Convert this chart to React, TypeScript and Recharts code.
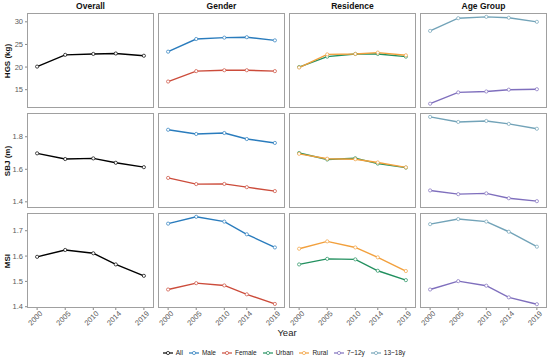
import React from 'react';
import { LineChart, Line, XAxis, YAxis } from 'recharts';

const years = [2000, 2005, 2010, 2014, 2019];

// HGS (kg)
const hgsAll = [20.1, 22.7, 22.9, 23.0, 22.5];
const hgsMale = [23.4, 26.2, 26.5, 26.6, 25.9];
const hgsFemale = [16.8, 19.1, 19.3, 19.3, 19.1];
const hgsUrban = [20.0, 22.3, 22.9, 22.9, 22.3];
const hgsRural = [19.9, 22.8, 22.9, 23.2, 22.6];
const hgsAge7 = [11.9, 14.4, 14.6, 15.0, 15.1];
const hgsAge13 = [28.0, 30.8, 31.1, 30.9, 30.0];

// SBJ (m)
const sbjAll = [1.698, 1.663, 1.667, 1.640, 1.613];
const sbjMale = [1.843, 1.817, 1.823, 1.786, 1.762];
const sbjFemale = [1.547, 1.509, 1.510, 1.490, 1.466];
const sbjUrban = [1.700, 1.660, 1.668, 1.635, 1.610];
const sbjRural = [1.695, 1.665, 1.662, 1.642, 1.612];
const sbjAge7 = [1.470, 1.447, 1.452, 1.422, 1.404];
const sbjAge13 = [1.922, 1.891, 1.897, 1.879, 1.849];

// MSI
const msiAll = [1.597, 1.624, 1.611, 1.567, 1.522];
const msiMale = [1.728, 1.755, 1.736, 1.686, 1.634];
const msiFemale = [1.468, 1.493, 1.484, 1.449, 1.411];
const msiUrban = [1.567, 1.589, 1.587, 1.542, 1.505];
const msiRural = [1.629, 1.658, 1.634, 1.595, 1.541];
const msiAge7 = [1.468, 1.501, 1.483, 1.437, 1.410];
const msiAge13 = [1.726, 1.746, 1.736, 1.696, 1.637];

const series = [
  { key: 'all', name: 'All', color: '#000000' },
  { key: 'male', name: 'Male', color: '#2a7cbd' },
  { key: 'female', name: 'Female', color: '#cc4c3b' },
  { key: 'urban', name: 'Urban', color: '#22905f' },
  { key: 'rural', name: 'Rural', color: '#f2a03d' },
  { key: 'age7', name: '7~12y', color: '#7f6fbd' },
  { key: 'age13', name: '13~18y', color: '#72a3b8' },
];

const facets = [
  { title: 'Overall', keys: ['all'] },
  { title: 'Gender', keys: ['male', 'female'] },
  { title: 'Residence', keys: ['urban', 'rural'] },
  { title: 'Age Group', keys: ['age7', 'age13'] },
];

const measures = [
  {
    label: 'HGS (kg)', domain: [10.95, 31.95], ticks: [15, 20, 25, 30], digits: 0,
    values: { all: hgsAll, male: hgsMale, female: hgsFemale, urban: hgsUrban, rural: hgsRural, age7: hgsAge7, age13: hgsAge13 },
  },
  {
    label: 'SBJ (m)', domain: [1.362, 1.946], ticks: [1.4, 1.6, 1.8], digits: 1,
    values: { all: sbjAll, male: sbjMale, female: sbjFemale, urban: sbjUrban, rural: sbjRural, age7: sbjAge7, age13: sbjAge13 },
  },
  {
    label: 'MSI', domain: [1.395, 1.77], ticks: [1.4, 1.5, 1.6, 1.7], digits: 1,
    values: { all: msiAll, male: msiMale, female: msiFemale, urban: msiUrban, rural: msiRural, age7: msiAge7, age13: msiAge13 },
  },
];

const colLeft = [27, 158, 289, 420];
const rowTop = [13, 113, 213];
const PW = 127;
const PH = 95;
const AXIS_W = 27;
const AXIS_H = 26;
const xDomain = [1998.2, 2020.8];
const tickColor = '#5c5c5c';

const XTick = (props: any) => {
  const { x, y, payload } = props;
  const ty = y + 8;
  return (
    <text x={x} y={ty} transform={`rotate(-45 ${x} ${ty})`} textAnchor="middle" fontSize={7.5} fill={tickColor}>
      {payload.value}
    </text>
  );
};

const Panel = ({ r, c }: { r: number; c: number }) => {
  const m = measures[r];
  const f = facets[c];
  const showY = c === 0;
  const showX = r === measures.length - 1;
  const data = years.map((yr, i) => {
    const row: any = { year: yr };
    f.keys.forEach(k => { row[k] = (m.values as any)[k][i]; });
    return row;
  });
  return (
    <div style={{ position: 'absolute', left: showY ? colLeft[c] - AXIS_W : colLeft[c], top: rowTop[r] }}>
      <LineChart
        width={PW + (showY ? AXIS_W : 0)}
        height={PH + (showX ? AXIS_H : 0)}
        data={data}
        margin={{ top: 0, right: 0, bottom: 0, left: 0 }}
      >
        <XAxis
          dataKey="year" type="number" domain={xDomain} ticks={years} interval={0}
          hide={!showX} height={AXIS_H} tick={<XTick />} tickSize={2}
          tickLine={{ stroke: '#888' }} axisLine={false}
        />
        <YAxis
          type="number" domain={m.domain} ticks={m.ticks} allowDataOverflow
          hide={!showY} width={AXIS_W} tickSize={2} tickMargin={2}
          tick={{ fontSize: 7.5, fill: tickColor }} tickLine={{ stroke: '#888' }} axisLine={false}
          tickFormatter={(v: number) => v.toFixed(m.digits)}
        />
        {f.keys.map(k => {
          const s = series.find(s => s.key === k)!;
          return (
            <Line
              key={k} dataKey={k} type="linear" stroke={s.color} strokeWidth={1.4}
              dot={{ r: 1.6, fill: '#fff', stroke: s.color, strokeWidth: 0.7 }}
              activeDot={false} isAnimationActive={false}
            />
          );
        })}
      </LineChart>
      <div style={{
        position: 'absolute', left: showY ? AXIS_W : 0, top: 0, width: PW, height: PH,
        border: '1.3px solid #a0a0a0', boxSizing: 'border-box', pointerEvents: 'none',
      }} />
    </div>
  );
};

const App = () => {
  return (
    <div style={{
      position: 'absolute', left: 0, top: 0, width: 550, height: 361, background: '#fff',
      fontFamily: '"Liberation Sans", Arial, sans-serif', overflow: 'hidden',
    }}>
      {facets.map((f, c) => (
        <div key={f.title} style={{
          position: 'absolute', left: colLeft[c], top: 0, width: PW, textAlign: 'center',
          fontSize: 8.5, fontWeight: 'bold', lineHeight: '12px', color: '#111',
        }}>{f.title}</div>
      ))}
      {measures.map((m, r) => (
        <div key={m.label} style={{
          position: 'absolute', left: 8, top: rowTop[r] + PH / 2, width: 100, textAlign: 'center',
          fontSize: 8, fontWeight: 'bold', lineHeight: '10px', color: '#111',
          transform: 'translate(-50%, -50%) rotate(-90deg)',
        }}>{m.label}</div>
      ))}
      {measures.map((m, r) => facets.map((f, c) => <Panel key={`${r}-${c}`} r={r} c={c} />))}
      <div style={{
        position: 'absolute', left: colLeft[0], top: 327, width: colLeft[3] + PW - colLeft[0],
        textAlign: 'center', fontSize: 9.5, lineHeight: '12px', color: '#222',
      }}>Year</div>
      <div style={{
        position: 'absolute', left: colLeft[0], top: 347, width: colLeft[3] + PW - colLeft[0],
        display: 'flex', justifyContent: 'center', alignItems: 'center', fontSize: 6.5, lineHeight: '12px', color: '#222',
      }}>
        {series.map(s => (
          <div key={s.key} style={{ display: 'flex', alignItems: 'center', marginRight: 6 }}>
            <svg width={10} height={8}>
              <line x1={0} y1={4} x2={10} y2={4} stroke={s.color} strokeWidth={1.2} />
              <circle cx={5} cy={4} r={1.6} fill="#fff" stroke={s.color} strokeWidth={0.7} />
            </svg>
            <span style={{ marginLeft: 3 }}>{s.name}</span>
          </div>
        ))}
      </div>
    </div>
  );
};

export default App;
